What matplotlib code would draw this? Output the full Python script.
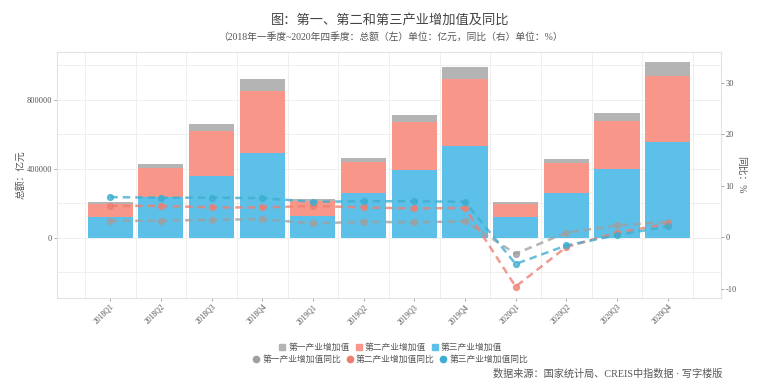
import matplotlib
matplotlib.use('Agg')
import matplotlib.pyplot as plt
from matplotlib.lines import Line2D
import numpy as np

plt.rcParams['font.family'] = ['Liberation Serif', 'Noto Sans CJK SC']
plt.rcParams['axes.unicode_minus'] = False

# data (累计值, 亿元 / 同比 %)
quarters = ['2018Q1', '2018Q2', '2018Q3', '2018Q4',
            '2019Q1', '2019Q2', '2019Q3', '2019Q4',
            '2020Q1', '2020Q2', '2020Q3', '2020Q4']
primary = [8900, 23000, 41500, 66000, 8800, 23200, 43000, 70500, 10200, 26000, 48100, 77800]
secondary = [80000, 166000, 259000, 361000, 86000, 180000, 277900, 387000, 73600, 172800, 274300, 384300]
tertiary = [118000, 238000, 359000, 491000, 127500, 257000, 392000, 531000, 121700, 257800, 400400, 554000]
primary_yoy = [3.2, 3.2, 3.4, 3.5, 2.7, 3.0, 2.9, 3.1, -3.2, 0.9, 2.3, 3.0]
secondary_yoy = [6.1, 6.1, 5.8, 5.8, 6.1, 5.8, 5.6, 5.7, -9.6, -1.9, 0.9, 2.6]
tertiary_yoy = [7.8, 7.7, 7.7, 7.6, 6.9, 7.0, 7.0, 6.9, -5.2, -1.6, 0.4, 2.1]

c_pri = '#b4b4b4'
c_sec = '#f8968a'
c_ter = '#5cc0e8'
l_pri = '#a0a0a0'
l_sec = '#ee7f70'
l_ter = '#3eaed0'
txt = '#555555'

fig = plt.figure(figsize=(7.81, 3.92), dpi=100)
ax = fig.add_axes([0.073, 0.240, 0.850, 0.627])
ax2 = ax.twinx()

x = np.arange(len(quarters))
w = 0.89
sec_bottom = np.array(tertiary)
pri_bottom = sec_bottom + np.array(secondary)
ax.bar(x, tertiary, w, color=c_ter, zorder=2)
ax.bar(x, secondary, w, bottom=sec_bottom, color=c_sec, zorder=2)
ax.bar(x, primary, w, bottom=pri_bottom, color=c_pri, zorder=2)

ax.set_xlim(-1.05, len(quarters) - 1 + 1.05)
ax.set_ylim(-349000, 1075000)
ax.set_yticks([0, 400000, 800000])
ax.set_yticklabels(['0', '400000', '800000'])
for v in range(-200000, 1000001, 200000):
    ax.axhline(v, color='#ececec', lw=0.6, zorder=0)
for xv in np.arange(-0.5, len(quarters), 1.0):
    ax.axvline(xv, color='#ececec', lw=0.6, zorder=0)

ax.set_xticks(x)
ax.set_xticklabels(quarters, rotation=45, ha='right', rotation_mode='anchor',
                   fontsize=5.5, color=txt)
ax.tick_params(axis='both', length=2, width=0.5, colors='#888888', labelcolor=txt, pad=1.5)
ax.tick_params(axis='y', labelsize=6)
ax.set_ylabel('总额：亿元', fontsize=7, color=txt, labelpad=1)

for s in ax.spines.values():
    s.set_color('#e2e2e2')
    s.set_linewidth(0.8)
for s in ax2.spines.values():
    s.set_visible(False)

ls = (0, (3, 2))
ax2.plot(x, primary_yoy, color=l_pri, lw=1.8, ls=ls, marker='o', ms=4.2, alpha=0.78)
ax2.plot(x, secondary_yoy, color=l_sec, lw=1.8, ls=ls, marker='o', ms=4.2, alpha=0.78)
ax2.plot(x, tertiary_yoy, color=l_ter, lw=1.8, ls=ls, marker='o', ms=4.2, alpha=0.78)
ax2.set_ylim(-11.8, 36.0)
ax2.set_yticks([-10, 0, 10, 20, 30])
ax2.tick_params(axis='y', length=2, width=0.5, colors='#888888', labelcolor=txt,
                labelsize=6, pad=1.5)
ax2.set_ylabel('同比：%', fontsize=7, color=txt, rotation=-90, labelpad=6)

fig.text(0.5, 0.947, '图：第一、第二和第三产业增加值及同比', ha='center', va='center',
         fontsize=9.5, color='#444444')
fig.text(0.5, 0.905, '（2018年一季度~2020年四季度：总额（左）单位：亿元，同比（右）单位：%）',
         ha='center', va='center', fontsize=7, color='#555555')

bar_handles = [Line2D([], [], ls='none', marker='s', ms=5, color=c) for c in (c_pri, c_sec, c_ter)]
bar_labels = ['第一产业增加值', '第二产业增加值', '第三产业增加值']
pt_handles = [Line2D([], [], ls='none', marker='o', ms=4.5, color=c) for c in (l_pri, l_sec, l_ter)]
pt_labels = ['第一产业增加值同比', '第二产业增加值同比', '第三产业增加值同比']
leg_kw = dict(ncol=3, frameon=False, fontsize=6.3, handlelength=0.8, handletextpad=0.3,
              columnspacing=0.6, labelcolor=txt, borderaxespad=0, borderpad=0)
fig.legend(bar_handles, bar_labels, loc='center', bbox_to_anchor=(0.5, 0.114), **leg_kw)
fig.legend(pt_handles, pt_labels, loc='center', bbox_to_anchor=(0.5, 0.082), **leg_kw)

fig.text(0.925, 0.048, '数据来源：国家统计局、CREIS中指数据 · 写字楼版', ha='right', va='center',
         fontsize=7.3, color='#555555')

fig.savefig('out.png', dpi=100)
